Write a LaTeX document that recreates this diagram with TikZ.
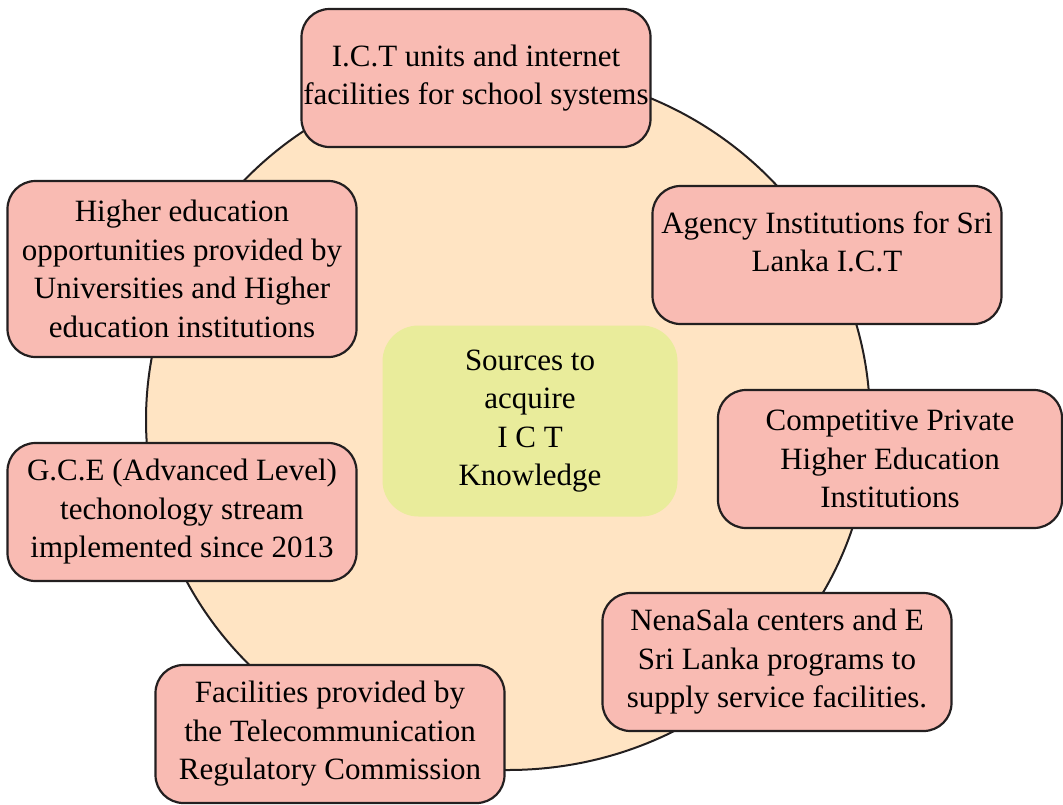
\documentclass[tikz,border=0pt]{standalone}
\usepackage{fontspec}
\setmainfont{Liberation Serif}
\newfontfamily\sourcefont{Liberation Serif}
\usepackage{xcolor}
\definecolor{boxpink}{HTML}{F9BBB3}
\definecolor{ringfill}{HTML}{FFE4C3}
\definecolor{corefill}{HTML}{E9EC9B}
\definecolor{edgegray}{HTML}{231F20}

\begin{document}
\begin{tikzpicture}[
    x=1pt, y=-1pt,
    font=\sourcefont\fontsize{31}{38.5}\selectfont,
    source/.style={rectangle, draw=edgegray, line width=2.2pt, fill=boxpink,
                   rounded corners=28pt, align=center, inner sep=0pt,
                   minimum width=349pt, minimum height=#1},
    source/.default=138pt,
    core/.style={rectangle, fill=corefill, rounded corners=36pt,
                 align=center, inner sep=0pt,
                 minimum width=295pt, minimum height=191pt},
]
    \useasboundingbox (0,0) rectangle (1063,804);

    % Background circle
    \filldraw[fill=ringfill, draw=edgegray, line width=2pt]
        (508,420) ellipse [x radius=362, y radius=350];

    % Centre
    \node[core] (core) at (530,421) {Sources to\\acquire\\I C T\\Knowledge};

    % Sources around the circle
    \node[source] (school) at (476,78)
          {I.C.T units and internet\\facilities for school systems};
    \node[source, text depth=27pt] (agency) at (827,255)
          {Agency Institutions for Sri\\Lanka I.C.T};
    \node[source, minimum width=344pt] (private) at (890,459)
          {Competitive Private\\Higher Education\\Institutions};
    \node[source] (nenasala) at (777,662)
          {NenaSala centers and E\\Sri Lanka programs to\\supply service facilities.};
    \node[source] (trc) at (330,734)
          {Facilities provided by\\the Telecommunication\\Regulatory Commission};
    \node[source] (gce) at (182,512)
          {G.C.E (Advanced Level)\\techonology stream\\implemented since 2013};
    \node[source=176pt] (higher) at (182,269)
          {Higher education\\opportunities provided by\\Universities and Higher\\education institutions};

\end{tikzpicture}
\end{document}
